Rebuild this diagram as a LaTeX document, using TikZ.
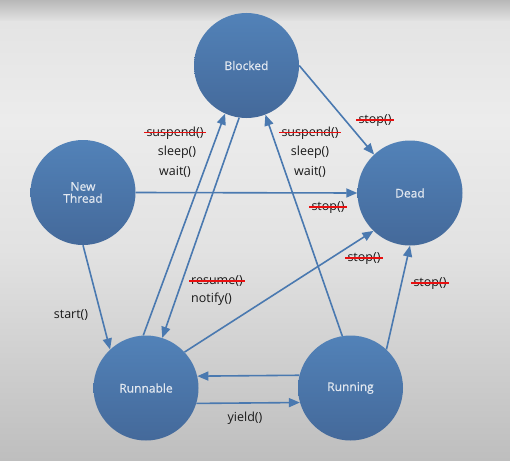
\documentclass[tikz,border=0pt]{standalone}
\usepackage{fontspec}
\setmainfont{Open Sans}
\newfontfamily\nodefont[FakeBold=0.6]{Open Sans}
\usetikzlibrary{arrows.meta}
\definecolor{circtop}{HTML}{5282B8}
\definecolor{circbot}{HTML}{44699A}
\definecolor{arr}{HTML}{4A79B0}
\definecolor{ntext}{HTML}{E2E8F0}
\definecolor{bga}{HTML}{B8B8B8}
\definecolor{bgb}{HTML}{E4E4E4}
\definecolor{bgc}{HTML}{ECECEC}
\definecolor{bgd}{HTML}{E2E2E2}
\definecolor{bge}{HTML}{BEBEBE}
\definecolor{strk}{HTML}{E81010}
\tikzset{
  state/.style={circle, minimum size=105pt, inner sep=0pt, top color=circtop, bottom color=circbot,
    text=ntext, font=\nodefont\fontsize{12}{14}\selectfont, align=center},
  conn/.style={draw=arr, line width=1.6pt, -{Triangle[length=11pt,width=9pt]}},
  lbl/.style={font=\fontsize{12.5}{15}\selectfont, text=black!90, inner sep=1pt, align=left},
  strikeline/.style={draw=strk, line width=1.7pt}
}
\begin{document}
\begin{tikzpicture}[x=1pt,y=-1pt]
\useasboundingbox (0,0) rectangle (510,460);
\shade[top color=bga, bottom color=bgb] (0,0) rectangle (510,22);
\shade[top color=bgb, bottom color=bgc] (0,22) rectangle (510,120);
\shade[top color=bgc, bottom color=bgd] (0,120) rectangle (510,250);
\shade[top color=bgd, bottom color=bge] (0,250) rectangle (510,460);

\node[state] (B) at (246.5,65.5) {Blocked};
\node[state] (N) at (83,192.5) {New\\[-2pt]Thread};
\node[state] (D) at (410,193) {Dead};
\node[state] (R1) at (146,388) {Runnable};
\node[state] (R2) at (350.5,388) {Running};

\draw[conn] (N.270) -- (R1.133);
\draw[conn] (N.0) -- (D.180);
\draw[conn] (R1.93) -- (B.246);
\draw[conn] (B.262) -- (R1.72);
\draw[conn] (R2.99.5) -- (B.291.5);
\draw[conn] (B.0) -- (D.133);
\draw[conn] (R1.43.5) -- (D.226.5);
\draw[conn] (R2.47) -- (D.270);
\draw[conn] (R2.166.8) -- (R1.13.2);
\draw[conn] (R1.343.4) -- (R2.196.6);

% labels
\node[lbl] (l1) at (175,133) {suspend()};
\node[lbl] (l2) at (177,152) {sleep()};
\node[lbl] (l3) at (175,172) {wait()};
\node[lbl] (l4) at (310,133) {suspend()};
\node[lbl] (l5) at (310,152) {sleep()};
\node[lbl] (l6) at (310,172) {wait()};
\node[lbl] (l7) at (375,121) {stop()};
\node[lbl] (l8) at (328,208) {stop()};
\node[lbl] (l9) at (364,259) {stop()};
\node[lbl] (l10) at (430,284) {stop()};
\node[lbl, anchor=west] (l11) at (190,281) {resume()};
\node[lbl, anchor=west] (l12) at (190,299) {notify()};
\node[lbl] (l13) at (71,315) {start()};
\node[lbl] (l14) at (245,418) {yield()};

\foreach \s in {l1,l4,l7,l8,l9,l10,l11}
  \draw[strikeline] ([xshift=-1pt,yshift=3.8pt]\s.base west) -- ([xshift=1pt,yshift=3.8pt]\s.base east);
\end{tikzpicture}
\end{document}
